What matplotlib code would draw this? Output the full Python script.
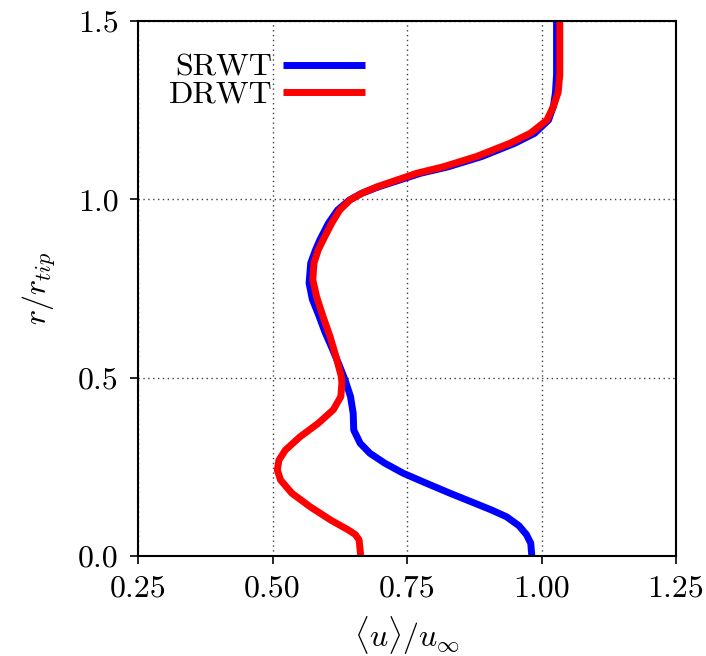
import numpy as np
import matplotlib
matplotlib.use('Agg')
import matplotlib.pyplot as plt

plt.rcParams['font.family'] = 'serif'
plt.rcParams['font.serif'] = ['cmr10']
plt.rcParams['mathtext.fontset'] = 'cm'
plt.rcParams['axes.unicode_minus'] = False
plt.rcParams['axes.formatter.use_mathtext'] = True

# SRWT (blue): radial position and mean velocity
r_srwt = [0.0, 0.036, 0.06, 0.085, 0.11, 0.129, 0.148, 0.176, 0.204, 0.232, 0.26,
          0.288, 0.316, 0.353, 0.40, 0.447, 0.493, 0.535, 0.578, 0.63, 0.671,
          0.72, 0.765, 0.821, 0.858, 0.886, 0.933, 0.97, 0.998, 1.017, 1.035,
          1.054, 1.073, 1.091, 1.12, 1.157, 1.185, 1.222, 1.26, 1.3, 1.35, 1.5]
u_srwt = [0.982, 0.98, 0.972, 0.958, 0.935, 0.907, 0.876, 0.83, 0.786, 0.743, 0.709,
          0.681, 0.663, 0.651, 0.65, 0.645, 0.635, 0.624, 0.612, 0.597, 0.587,
          0.574, 0.568, 0.571, 0.58, 0.588, 0.604, 0.621, 0.643, 0.666, 0.697,
          0.736, 0.775, 0.826, 0.889, 0.95, 0.987, 1.013, 1.022, 1.026, 1.028, 1.028]

# DRWT (red)
r_drwt = [0.0, 0.045, 0.06, 0.073, 0.1, 0.138, 0.176, 0.213, 0.241, 0.269, 0.297,
          0.334, 0.372, 0.41, 0.447, 0.485, 0.503, 0.559, 0.615, 0.671, 0.727,
          0.774, 0.821, 0.858, 0.886, 0.933, 0.97, 0.998, 1.017, 1.035, 1.054,
          1.073, 1.091, 1.12, 1.157, 1.185, 1.222, 1.26, 1.3, 1.35, 1.5]
u_drwt = [0.664, 0.661, 0.654, 0.641, 0.609, 0.57, 0.536, 0.515, 0.509, 0.512, 0.524,
          0.551, 0.585, 0.613, 0.627, 0.629, 0.628, 0.618, 0.607, 0.594, 0.582,
          0.575, 0.577, 0.585, 0.594, 0.61, 0.625, 0.644, 0.666, 0.694, 0.731,
          0.768, 0.817, 0.879, 0.941, 0.979, 1.01, 1.022, 1.031, 1.034, 1.034]

xticks = [0.25, 0.50, 0.75, 1.00, 1.25]
xticklabels = ['0.25', '0.50', '0.75', '1.00', '1.25']
yticks = [0.0, 0.5, 1.0, 1.5]
yticklabels = ['0.0', '0.5', '1.0', '1.5']

fig = plt.figure(figsize=(7.06, 6.56), dpi=100)
ax = fig.add_axes([138 / 706, 100 / 656, 538 / 706, 535 / 656])

ax.plot(u_srwt, r_srwt, color='#0000ff', lw=5, label='SRWT', solid_capstyle='butt',
        solid_joinstyle='round')
ax.plot(u_drwt, r_drwt, color='#ff0000', lw=5, label='DRWT', solid_capstyle='butt',
        solid_joinstyle='round')

ax.set_xlim(0.25, 1.25)
ax.set_ylim(0.0, 1.5)
ax.set_xticks(xticks)
ax.set_xticklabels(xticklabels)
ax.set_yticks(yticks)
ax.set_yticklabels(yticklabels)
ax.tick_params(direction='out', length=6, width=1.2, labelsize=23, pad=8)
ax.grid(True, color='0.25', linestyle=(0, (1, 2.5)), lw=1.0)
for s in ax.spines.values():
    s.set_linewidth(1.5)

ax.set_xlabel(r'$\langle u\rangle/u_\infty$', fontsize=23, labelpad=8)
ax.set_ylabel(r'$r/r_{tip}$', fontsize=23, labelpad=14)

leg = ax.legend(loc='upper left', markerfirst=False, frameon=False, fontsize=23,
                handlelength=2.55, handletextpad=0.35, labelspacing=-0.05,
                bbox_to_anchor=(0.033, 0.963), borderaxespad=0)

fig.savefig('out.png', dpi=100)
